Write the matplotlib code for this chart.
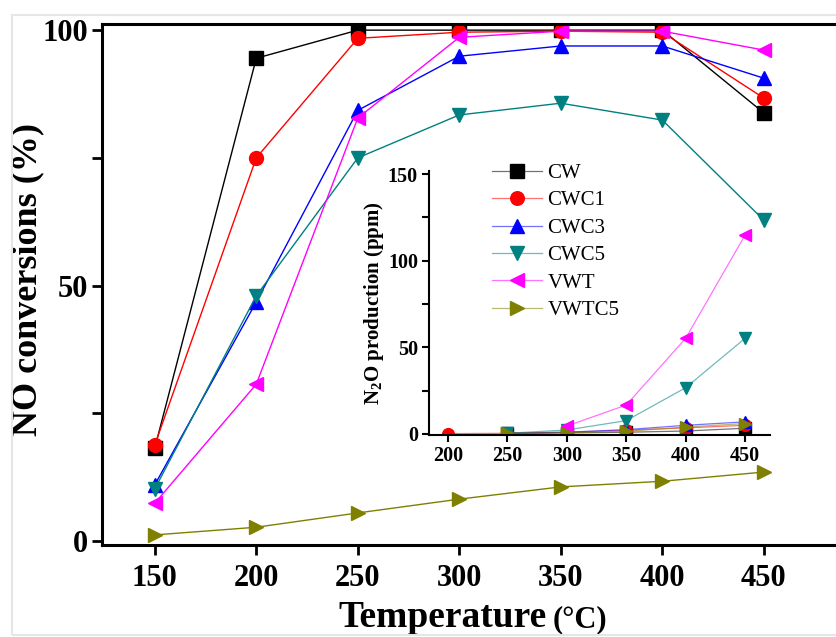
import numpy as np
import matplotlib
matplotlib.use('Agg')
import matplotlib.pyplot as plt
from matplotlib.colors import to_rgba
from matplotlib.ticker import MultipleLocator
from matplotlib.patches import Rectangle

plt.rcParams['font.family'] = ['Liberation Serif', 'DejaVu Serif']
plt.rcParams['mathtext.fontset'] = 'custom'
plt.rcParams['mathtext.rm'] = 'Liberation Serif'
plt.rcParams['mathtext.bf'] = 'Liberation Serif:bold'

# NO conversion (%) vs temperature
temps = [150, 200, 250, 300, 350, 400, 450]
cw = [18.2, 94.5, 100.0, 100.0, 100.0, 100.0, 83.8]
cwc1 = [18.8, 75.0, 98.4, 99.6, 99.8, 99.6, 86.7]
cwc3 = [11.0, 46.8, 84.3, 94.9, 96.9, 96.9, 90.6]
cwc5 = [10.2, 48.0, 75.0, 83.4, 85.7, 82.4, 62.8]
vwt = [7.4, 30.7, 82.8, 98.6, 99.8, 99.8, 96.1]
vwtc5 = [1.2, 2.7, 5.5, 8.2, 10.6, 11.7, 13.5]

# N2O production (ppm), inset
n2o_temps = [200, 250, 300, 350, 400, 450]
cw_n2o = [np.nan, 0.3, 0.6, 1.0, 1.7, 3.3]
cwc1_n2o = [0.2, 0.4, 1.0, 2.2, 3.5, 5.0]
cwc3_n2o = [np.nan, 0.5, 1.0, 2.5, 5.0, 7.0]
cwc5_n2o = [np.nan, 0.4, 2.3, 7.7, 26.7, 55.2]
vwt_n2o = [np.nan, np.nan, 4.6, 16.7, 55.2, 114.8]
vwtc5_n2o = [np.nan, 0.4, 0.8, 1.5, 4.0, 6.0]

labels = ['CW', 'CWC1', 'CWC3', 'CWC5', 'VWT', 'VWTC5']
colors = ['black', 'red', 'blue', '#008080', 'magenta', '#808000']
markers = ['s', 'o', '^', 'v', '<', '>']
main_series = [cw, cwc1, cwc3, cwc5, vwt, vwtc5]
inset_series = [cw_n2o, cwc1_n2o, cwc3_n2o, cwc5_n2o, vwt_n2o, vwtc5_n2o]

fig = plt.figure(figsize=(8.36, 6.37), dpi=100)

# faint screenshot border
fig.patches.append(Rectangle((12 / 836, 2 / 637), 1.0, 620 / 637, transform=fig.transFigure,
                             fill=False, edgecolor='#e6e6e6', lw=1.5))

ax = fig.add_axes([0.1220, 0.1444, 0.8888, 0.8179])
for ys, c, m in zip(main_series, colors, markers):
    ax.plot(temps, ys, color=c, marker=m, markersize=10, lw=1.0, markeredgecolor=c)

ax.set_xlim(124, 490)
ax.set_ylim(-0.78, 101.2)
ax.set_xticks(temps)
ax.yaxis.set_major_locator(MultipleLocator(50))
ax.yaxis.set_minor_locator(MultipleLocator(25))
ax.tick_params(axis='both', which='major', direction='out', length=7, width=2, labelsize=22)
ax.tick_params(axis='x', pad=7)
ax.tick_params(axis='y', pad=3)
ax.tick_params(axis='y', which='minor', direction='out', length=7, width=2)
for lab in ax.get_xticklabels() + ax.get_yticklabels():
    lab.set_fontweight('bold')
ax.spines['right'].set_visible(False)
for s in ['left', 'bottom', 'top']:
    ax.spines[s].set_linewidth(2.2)

ax.set_ylabel('NO conversions (%)', fontsize=26, fontweight='bold')
ax.yaxis.set_label_coords(-0.077, 0.51)
ax.text(0.599, -0.157, 'Temperature', transform=ax.transAxes, ha='right', va='baseline',
        fontsize=27, fontweight='bold')
ax.text(0.606, -0.157, '(\u00b0C)', transform=ax.transAxes, ha='left', va='baseline',
        fontsize=22, fontweight='bold')

# inset
axi = fig.add_axes([0.5132, 0.3171, 0.4079, 0.4151])
handles = []
for ys, c, m, lab in zip(inset_series, colors, markers, labels):
    h, = axi.plot(n2o_temps, ys, color=to_rgba(c, 0.55), marker=m, markersize=8.5, lw=0.9,
                  markerfacecolor=c, markeredgecolor=c, label=lab)
    handles.append(h)
axi.set_xlim(184, 471)
axi.set_ylim(-0.6, 152)
axi.set_xticks(n2o_temps)
axi.yaxis.set_major_locator(MultipleLocator(50))
axi.yaxis.set_minor_locator(MultipleLocator(25))
axi.tick_params(axis='both', which='major', direction='out', length=5, width=1.5, labelsize=14.5, pad=3)
axi.tick_params(axis='y', which='minor', direction='out', length=5, width=1.5)
for lab in axi.get_xticklabels() + axi.get_yticklabels():
    lab.set_fontweight('bold')
axi.spines['right'].set_visible(False)
axi.spines['top'].set_visible(False)
for s in ['left', 'bottom']:
    axi.spines[s].set_linewidth(1.5)
axi.patch.set_alpha(0)
axi.set_ylabel(r'$\mathbf{N_2O}$ production (ppm)', fontsize=15, fontweight='bold', labelpad=1)

axi.legend(handles=handles, loc='upper left', bbox_to_anchor=(0.185, 1.027), frameon=False,
           fontsize=15, handlelength=2.4, handletextpad=0.25, labelspacing=0.375,
           borderpad=0, borderaxespad=0, markerscale=1.15)

fig.savefig('out.png', dpi=100)
